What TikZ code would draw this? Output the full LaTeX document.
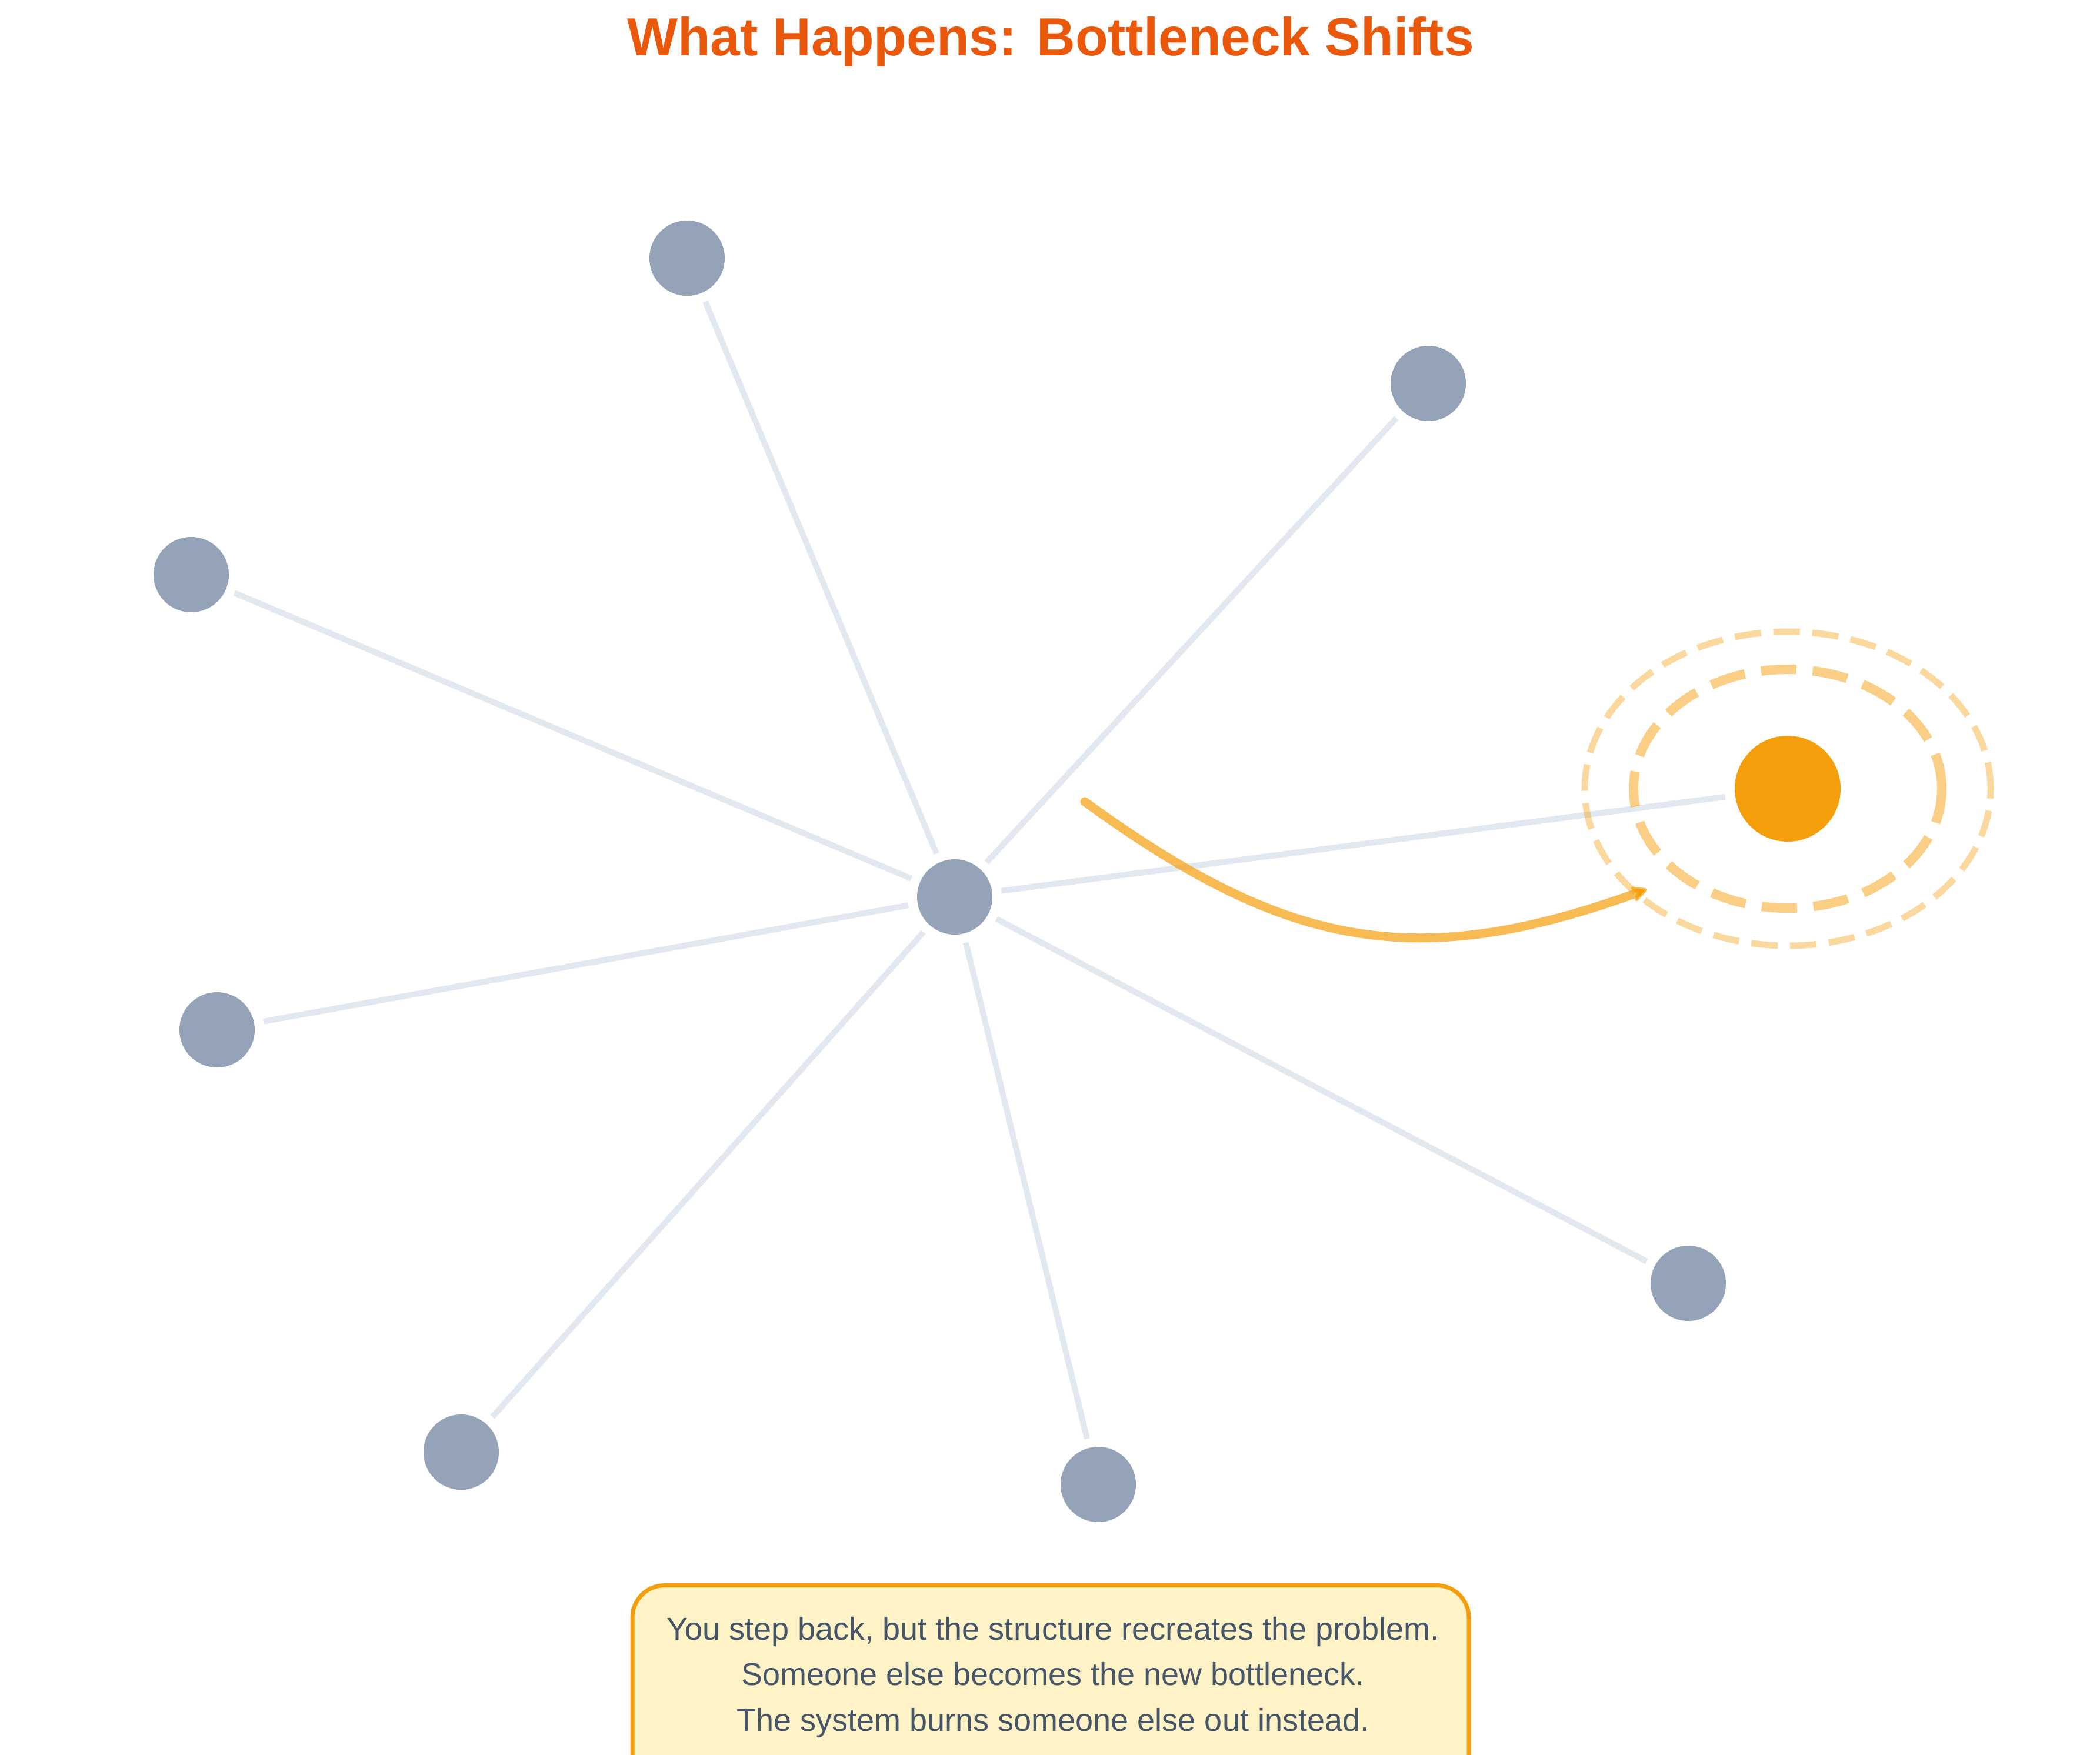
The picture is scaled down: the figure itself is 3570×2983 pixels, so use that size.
\documentclass[tikz,border=0pt]{standalone}
\usepackage{fontspec}
\setmainfont{Liberation Sans}
\usetikzlibrary{arrows.meta}
\definecolor{nodegray}{HTML}{94A3B8}
\definecolor{linkgray}{HTML}{E2E8F0}
\definecolor{amber}{HTML}{F59E0B}
\definecolor{titleorange}{HTML}{EA580C}
\definecolor{notefill}{HTML}{FEF3C7}
\definecolor{notegray}{HTML}{475569}
\begin{document}
\begin{tikzpicture}[x=1pt,y=-1pt,
    member/.style={circle,fill=nodegray,inner sep=0pt,minimum size=128pt,outer sep=16pt},
    hot/.style={circle,fill=amber,inner sep=0pt,minimum size=180pt,outer sep=17pt},
    link/.style={draw=linkgray,line width=10pt},
    ring/.style={draw=amber,line width=16pt,draw opacity=0.5,dash pattern=on 60pt off 28pt},
    outerring/.style={draw=amber,line width=11pt,draw opacity=0.4,dash pattern=on 45pt off 21pt},
    shiftarrow/.style={draw=amber,draw opacity=0.7,line width=15pt,line cap=round,
      -{Stealth[length=34pt,width=34pt,round]}},
    notebox/.style={draw=amber,fill=notefill,line width=7pt,rounded corners=55pt,
      minimum width=1422pt,minimum height=420pt,anchor=north},
    notetext/.style={text=notegray,font=\fontsize{54}{77.5}\selectfont,align=center,
      inner sep=0pt,anchor=north},
    headline/.style={text=titleorange,font=\fontsize{91}{100}\selectfont\bfseries,
      inner sep=0pt,anchor=base}]
  \useasboundingbox (0,0) rectangle (3570,2983);
  \node[headline] (title) at (1786,94) {What Happens: Bottleneck Shifts};
  \draw
    (1623,1525) node[member] (0){}
    (1168,439) node[member] (1){}
    (2428,652) node[member] (2){}
    (325,977) node[member] (3){}
    (369,1751) node[member] (4){}
    (784,2469) node[member] (5){}
    (1867,2524) node[member] (6){}
    (2870,2182) node[member] (7){}
    (3039,1341) node[hot] (8){};
  \begin{scope}[link]
    \draw (0) to (1);
    \draw (0) to (2);
    \draw (0) to (3);
    \draw (0) to (4);
    \draw (0) to (5);
    \draw (0) to (6);
    \draw (0) to (7);
    \draw (0) to (8);
  \end{scope}
  % the bottleneck moves over
  \coordinate (from) at (1844,1363);
  \coordinate (to) at (2800,1512);
  \draw[shiftarrow] (from) .. controls (2184,1610) and (2403,1656) .. (to);
  \draw[ring] (8.center) ellipse [x radius=262pt,y radius=203pt];
  \draw[outerring] (8.center) ellipse [x radius=345pt,y radius=267pt];
  \begin{scope}
    \clip (0,0) rectangle (3570,2983);
    \node[notebox] (box) at (1786,2692) {};
  \end{scope}
  \node[notetext] (note) at (1790,2749) {You step back, but the structure recreates the problem.\\
    Someone else becomes the new bottleneck.\\
    The system burns someone else out instead.};
\end{tikzpicture}
\end{document}
